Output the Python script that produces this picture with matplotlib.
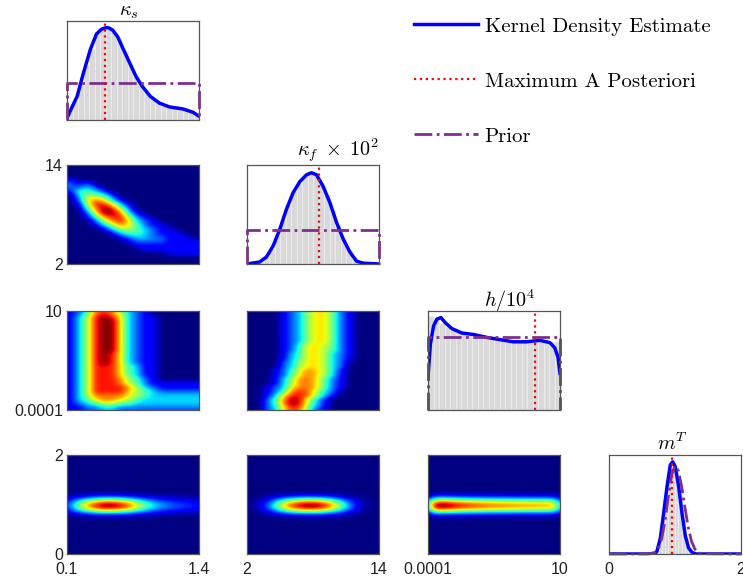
import numpy as np
import matplotlib
matplotlib.use('Agg')
import matplotlib.pyplot as plt

plt.rcParams['mathtext.fontset'] = 'cm'
plt.rcParams['font.family'] = ['Liberation Sans', 'DejaVu Sans']

# rangos de los parametros (limites del prior uniforme)
ks_range = (0.1, 1.4)
kf_range = (2, 14)
h_range = (0.0001, 10)
m_range = (0, 2)

titles = [r'$\kappa_s$', r'$\kappa_f\;\times\;10^2$', r'$h/10^4$', r'$m^T$']
title_x = [0.47, 0.69, 0.62, 0.48]
title_lift = [5.5, 8, 3.5, 5.5]   # px entre la base del texto y el borde superior

# --- marginales (KDE, histograma, MAP) ---
ks_x = [0.10, 0.15, 0.20, 0.26, 0.33, 0.39, 0.44, 0.48, 0.51, 0.55, 0.60,
        0.66, 0.72, 0.78, 0.84, 0.92, 1.01, 1.11, 1.24, 1.34, 1.40]
ks_kde = [0.04, 0.27, 0.49, 0.96, 1.46, 1.78, 1.88, 1.91, 1.91, 1.86, 1.72,
          1.44, 1.17, 0.90, 0.70, 0.49, 0.35, 0.27, 0.23, 0.16, 0.08]
ks_hist = [0.25, 0.39, 0.78, 1.13, 1.48, 1.78, 1.89, 1.91, 1.83, 1.64, 1.43, 1.15,
           0.92, 0.72, 0.57, 0.45, 0.37, 0.33, 0.29, 0.26, 0.24, 0.22, 0.18, 0.12]
ks_map = 0.476
ks_top = 2.05

kf_x = [2.0, 3.15, 3.76, 4.37, 4.98, 5.58, 6.19, 6.80, 7.41, 7.86, 8.32, 8.93,
        9.53, 10.14, 10.75, 11.36, 11.96, 12.57, 14.0]
kf_kde = [0.0, 0.005, 0.017, 0.044, 0.085, 0.134, 0.175, 0.202, 0.219, 0.224, 0.219,
          0.190, 0.151, 0.102, 0.061, 0.029, 0.007, 0.002, 0.0]
kf_hist = [0.0, 0.001, 0.006, 0.017, 0.038, 0.068, 0.108, 0.146, 0.178, 0.200, 0.215, 0.224,
           0.221, 0.200, 0.170, 0.133, 0.095, 0.061, 0.034, 0.014, 0.004, 0.001, 0.0, 0.0]
kf_map = 8.56
kf_top = 0.243

h_x = [0.0001, 0.18, 0.43, 0.68, 0.98, 1.31, 1.81, 2.56, 3.44, 4.45, 5.45, 6.46,
       7.46, 8.47, 9.22, 9.60, 9.85, 10.0]
h_kde = [0.045, 0.090, 0.115, 0.124, 0.126, 0.119, 0.111, 0.105, 0.103, 0.099, 0.096, 0.093,
         0.093, 0.095, 0.092, 0.085, 0.072, 0.050]
h_hist = [0.128, 0.124, 0.119, 0.113, 0.110, 0.107, 0.105, 0.104, 0.102, 0.100, 0.099, 0.097,
          0.096, 0.095, 0.094, 0.093, 0.093, 0.093, 0.094, 0.094, 0.095, 0.094, 0.093, 0.094]
h_map = 8.12
h_top = 0.135

m_x = [0.0, 0.65, 0.70, 0.727, 0.778, 0.828, 0.879, 0.929, 0.965, 1.005, 1.056,
       1.106, 1.157, 1.207, 1.26, 1.32, 2.0]
m_kde = [0.0, 0.0, 0.02, 0.10, 0.56, 1.44, 2.38, 3.15, 3.26, 3.08, 2.38,
         1.44, 0.63, 0.21, 0.05, 0.0, 0.0]
m_hist = [0, 0, 0, 0, 0, 0, 0, 0, 0, 0, 0, 0, 0, 0,
          0.08, 0.5, 1.3, 2.25, 3.0, 3.2, 2.85, 2.1, 1.2, 0.55, 0.2, 0.06, 0.01,
          0, 0, 0, 0, 0, 0, 0, 0, 0, 0, 0, 0, 0]
m_prior_x = [0.0, 0.6, 0.7, 0.75, 0.8, 0.85, 0.9, 0.95, 1.0, 1.05, 1.1, 1.15,
             1.2, 1.25, 1.3, 1.35, 1.4, 2.0]
m_prior = [0.0, 0.0, 0.06, 0.2, 0.55, 1.2, 2.05, 2.8, 3.12, 2.95, 2.4, 1.65,
           0.95, 0.45, 0.18, 0.05, 0.01, 0.0]
m_map = 0.96
m_top = 3.5

# --- densidades conjuntas (0-9, filas de arriba a abajo) ---
ks_kf_grid = [
    "0000000000000000",
    "0000000000000000",
    "0000000000000000",
    "1000000000000000",
    "2120000000000000",
    "2232000000000000",
    "1443200000000000",
    "0355420000000000",
    "0267631000000000",
    "0158863100000000",
    "0047985200000000",
    "0026997310000000",
    "0014788521000000",
    "0002578632100000",
    "0001357642110000",
    "0000135543211000",
    "0000013443211100",
    "0000001233221110",
    "0000000122221111",
    "0000000011111111",
    "0000000001111111",
    "0000000000001111",
    "0000000000000000",
    "0000000000000000",
]
ks_h_grid = [
    "1247875321000000",
    "1358986321100000",
    "1358996321100000",
    "1358996321100000",
    "1358996321100000",
    "1358996321100000",
    "1358996321100000",
    "1358996321100000",
    "1358996321100000",
    "1358996321100000",
    "1358986321100000",
    "1358986321100000",
    "1358986321100000",
    "1358886431100000",
    "1358886431100000",
    "1358886431100000",
    "1358887542100000",
    "1358887542111111",
    "1358888753211111",
    "1358888654322222",
    "1357777654333333",
    "1346776543333333",
    "1234554433333333",
    "1122332222222222",
]
kf_h_grid = [
    "0000123566421000",
    "0000123566421000",
    "0000123566421000",
    "0000123566421000",
    "0000123566421000",
    "0000123566421000",
    "0000123566421000",
    "0000123566421000",
    "0000124665421000",
    "0000124665421000",
    "0000134665321000",
    "0000134665321000",
    "0000235665320000",
    "0000235665320000",
    "0001246765310000",
    "0001246765310000",
    "0001357764210000",
    "0001357764210000",
    "0012367764210000",
    "0012478753200000",
    "0013688753100000",
    "0024798531000000",
    "0024798531000000",
    "0023687421000000",
]

# perfiles de la banda de m^T (fila inferior)
band_m = [0.70, 0.75, 0.80, 0.85, 0.90, 0.95, 1.00, 1.05, 1.10, 1.15, 1.20, 1.25, 1.30]
band_m_val = [0.01, 0.05, 0.18, 0.44, 0.74, 0.96, 0.98, 0.80, 0.52, 0.25, 0.09, 0.02, 0.0]
band_ks = [0.1, 0.2, 0.3, 0.4, 0.5, 0.6, 0.7, 0.8, 0.9, 1.0, 1.1, 1.2, 1.3, 1.4]
band_ks_val = [0.15, 0.45, 0.72, 0.9, 1.0, 0.94, 0.82, 0.6, 0.42, 0.3, 0.23, 0.19, 0.16, 0.13]
band_kf = [2, 3, 4, 5, 6, 7, 8, 9, 10, 11, 12, 13, 14]
band_kf_val = [0.0, 0.05, 0.22, 0.55, 0.82, 0.96, 1.0, 0.9, 0.66, 0.36, 0.1, 0.02, 0.0]
band_h = [0, 0.5, 1, 1.5, 2, 2.5, 3, 3.5, 4, 4.5, 5, 5.5, 6, 6.5, 7, 7.5, 8, 8.5, 9, 9.5, 10]
band_h_val = [0.35, 0.92, 1.0, 0.97, 0.92, 0.88, 0.85, 0.83, 0.81, 0.79, 0.78, 0.77, 0.76,
              0.75, 0.74, 0.73, 0.73, 0.72, 0.72, 0.68, 0.35]

ranges = [ks_range, kf_range, h_range, m_range]
tick_labels = [['0.1', '1.4'], ['2', '14'], ['0.0001', '10'], ['0', '2']]

kde_color = '#0000ff'
map_color = '#ff0000'
prior_color = '#7e2f8e'
frame_color = '#555555'

W, H = 743, 580
col_left = [67, 247, 428, 609]
row_top = [21, 165, 311, 455]
aw, ah = 132, 99

fig = plt.figure(figsize=(7.43, 5.80), dpi=100)


def make_ax(r, c):
    ax = fig.add_axes([col_left[c] / W, 1 - (row_top[r] + ah) / H, aw / W, ah / H])
    for s in ax.spines.values():
        s.set_color(frame_color)
        s.set_linewidth(0.9)
    ax.tick_params(length=0, labelsize=11.5, colors='#222222')
    ax.tick_params(axis='x', pad=6)
    ax.tick_params(axis='y', pad=3)
    ax.set_xticks([])
    ax.set_yticks([])
    return ax


def diag(ax, rng, kx, ky, hist, xmap, top, px=None, py=None):
    edges = np.linspace(rng[0], rng[1], len(hist) + 1)
    ax.bar(edges[:-1], hist, width=np.diff(edges), align='edge',
           color='#d9d9d9', edgecolor='#efefef', linewidth=0.5)
    kde, = ax.plot(kx, ky, color=kde_color, lw=2.5)
    if px is None:
        p = 1 / (rng[1] - rng[0])
        px, py = [rng[0], rng[0], rng[1], rng[1]], [0, p, p, 0]
    prior, = ax.plot(px, py, color=prior_color, ls='-.', lw=2, clip_on=False)
    mp = ax.axvline(xmap, color=map_color, ls=':', lw=1.6)
    ax.set_xlim(rng)
    ax.set_ylim(0, top)
    return kde, mp, prior


def grid2d(ax, rows, xr, yr):
    z = np.array([[int(ch) for ch in row] for row in rows], dtype=float)
    ax.imshow(z, extent=(xr[0], xr[1], yr[0], yr[1]), origin='upper', aspect='auto',
              cmap='jet', vmin=0, vmax=9, interpolation='bicubic', interpolation_stage='data')
    ax.set_xlim(xr)
    ax.set_ylim(yr)


def band2d(ax, xs, xv, xr):
    z = np.outer(band_m_val, xv)
    dx = xs[1] - xs[0]
    dm = band_m[1] - band_m[0]
    ax.set_facecolor(plt.cm.jet(0.0))
    ax.imshow(z, extent=(xs[0] - dx / 2, xs[-1] + dx / 2, band_m[0] - dm / 2, band_m[-1] + dm / 2),
              origin='lower', aspect='auto', cmap='jet', vmin=0, vmax=1,
              interpolation='bicubic', interpolation_stage='data')
    ax.set_xlim(xr)
    ax.set_ylim(m_range)


# diagonal
a0 = make_ax(0, 0)
kde_h, map_h, prior_h = diag(a0, ks_range, ks_x, ks_kde, ks_hist, ks_map, ks_top)
a1 = make_ax(1, 1)
diag(a1, kf_range, kf_x, kf_kde, kf_hist, kf_map, kf_top)
a2 = make_ax(2, 2)
diag(a2, h_range, h_x, h_kde, h_hist, h_map, h_top)
a3 = make_ax(3, 3)
diag(a3, m_range, m_x, m_kde, m_hist, m_map, m_top, m_prior_x, m_prior)
for i, ax in enumerate([a0, a1, a2, a3]):
    ax.text(title_x[i], 1 + title_lift[i] / ah, titles[i], transform=ax.transAxes,
            ha='center', va='baseline', fontsize=14.5)

# conjuntas
b10 = make_ax(1, 0)
grid2d(b10, ks_kf_grid, ks_range, kf_range)
b20 = make_ax(2, 0)
grid2d(b20, ks_h_grid, ks_range, h_range)
b21 = make_ax(2, 1)
grid2d(b21, kf_h_grid, kf_range, h_range)
b30 = make_ax(3, 0)
band2d(b30, band_ks, band_ks_val, ks_range)
b31 = make_ax(3, 1)
band2d(b31, band_kf, band_kf_val, kf_range)
b32 = make_ax(3, 2)
band2d(b32, band_h, band_h_val, h_range)

# etiquetas de los ejes
for r, ax in [(1, b10), (2, b20), (3, b30)]:
    ax.set_yticks(ranges[r])
    ax.set_yticklabels(tick_labels[r])
for c, ax in [(0, b30), (1, b31), (2, b32), (3, a3)]:
    ax.set_xticks(ranges[c])
    ax.set_xticklabels(tick_labels[c])

fig.legend([kde_h, map_h, prior_h],
           ['Kernel Density Estimate', 'Maximum A Posteriori', 'Prior'],
           loc='upper left', bbox_to_anchor=(414 / W, 1 - 17 / H), frameon=False,
           prop={'family': 'cmr10', 'size': 15}, handlelength=3.05, handletextpad=0.34,
           labelspacing=1.75, borderaxespad=0, borderpad=0)

fig.savefig('out.png', dpi=100)
